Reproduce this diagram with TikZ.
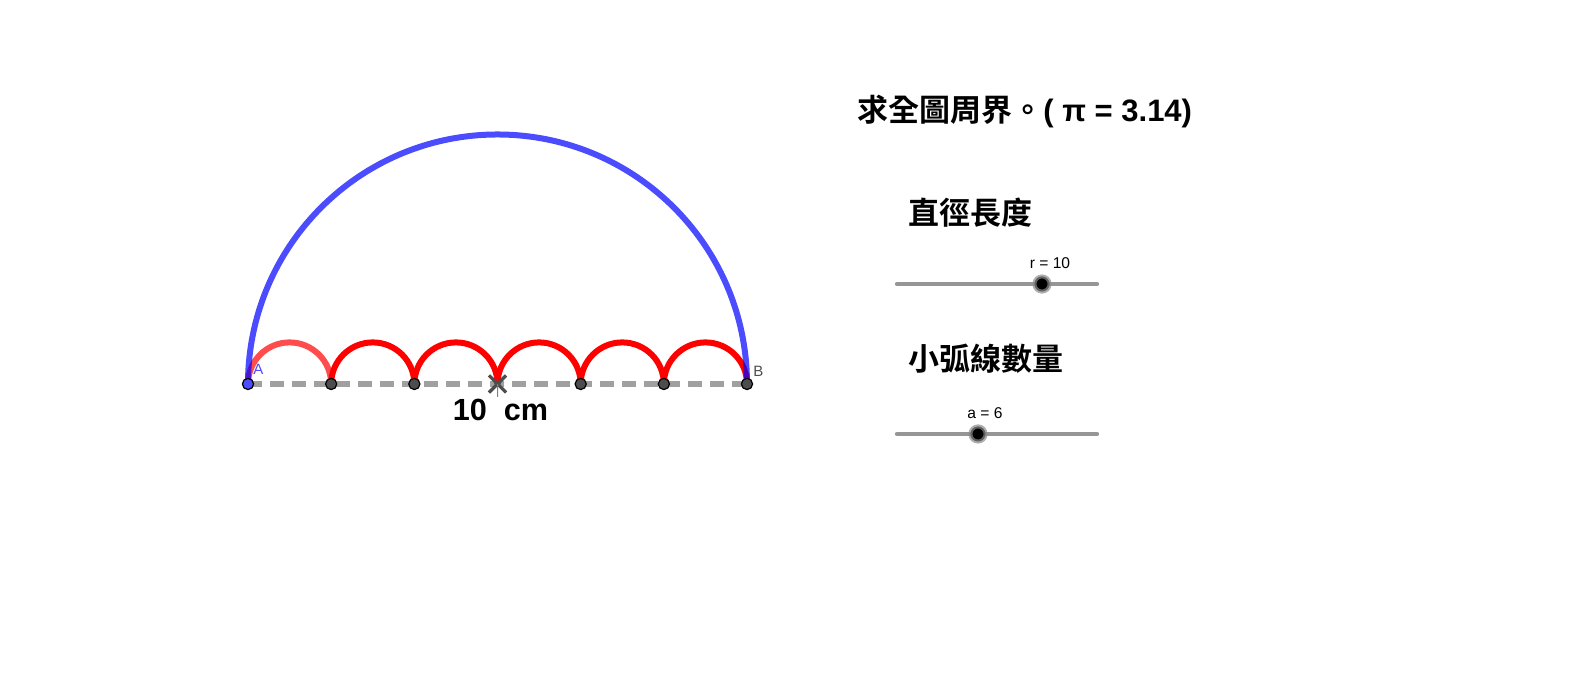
\documentclass[tikz,border=0pt]{standalone}
\usepackage{fontspec}
\setmainfont{Liberation Sans}
\newfontfamily\cjk{Noto Sans CJK TC Bold}
\usetikzlibrary{shapes.misc}
\definecolor{ggblue}{RGB}{77,77,255}
\definecolor{ptgray}{RGB}{77,77,77}
\definecolor{dashgray}{RGB}{160,160,160}
\definecolor{slidegray}{RGB}{150,150,150}

\begin{document}
\begin{tikzpicture}[x=0.5pt,y=0.5pt,
    dot/.style={circle,draw=black,line width=0.6pt,inner sep=0pt,minimum size=5.6pt,fill=ptgray},
    knob/.style={circle,inner sep=0pt,minimum size=7.6pt,fill=black,draw=black!45,draw opacity=0.7,line width=2pt},
    slide/.style={slidegray,line width=2.2pt,line cap=round},
    txt/.style={inner sep=0pt,anchor=base}]
            \useasboundingbox (0,0) rectangle (1591,678);

            % diameter AB
            \foreach \i in {0,...,5}
                \coordinate (P\i) at ({248+83.17*\i},294);
            \coordinate (P6) at (747,294);
            \draw[dashgray,line width=2.6pt,dash pattern=on 7pt off 4pt] (P0) to (P6);

            % small arcs
            \draw[red,opacity=0.7,line width=3pt] (P0) arc (180:0:41.58);
            \foreach \i in {1,...,5}
                \draw[red,line width=3pt] (P\i) arc (180:0:41.58);

            % big arc
            \draw[blue,opacity=0.7,line width=3pt] (P0) arc (180:0:249.5);

            \node[dot,fill=ggblue] (d0) at (P0) {};
            \foreach \i in {1,2,4,5,6}
                \node[dot] (d\i) at (P\i) {};
            \node[cross out,draw=ptgray,line width=1.6pt,minimum size=7pt,inner sep=0pt] (M) at (P3) {};
            \coordinate (M1) at (497.5,281);
            \draw[gray,line width=0.5pt] (M.center) to (M1);

            \node[txt,anchor=base west,text=ggblue,font=\fontsize{7.5}{9}\selectfont] (lA) at (253,303) {A};
            \node[txt,anchor=base west,text=ptgray,font=\fontsize{7.5}{9}\selectfont] (lB) at (753,301) {B};
            \node[txt,font=\fontsize{15.3}{18}\selectfont\bfseries] (len) at (500.5,257) {10\ \ cm};

            % text on the right
            \node[txt,anchor=base west,font=\fontsize{15.5}{18}\selectfont] (title) at (857,556) {{\cjk 求全圖周界。}\textbf{( π = 3.14)}};
            \node[inner sep=0pt,anchor=west,font=\cjk\fontsize{15.5}{18}\selectfont] (dia) at (908,465.5) {直徑長度};
            \node[inner sep=0pt,anchor=west,font=\cjk\fontsize{15.5}{18}\selectfont] (num) at (908,319) {小弧線數量};

            % sliders
            \coordinate (r0) at (897,394);
            \coordinate (r1) at (1097,394);
            \draw[slide] (r0) to (r1);
            \node[knob] (kr) at (1042,394) {};
            \node[txt,font=\fontsize{7.8}{9}\selectfont] (rlab) at (1050,409) {r = 10};

            \coordinate (a0) at (897,244);
            \coordinate (a1) at (1097,244);
            \draw[slide] (a0) to (a1);
            \node[knob] (ka) at (978,244) {};
            \node[txt,font=\fontsize{7.8}{9}\selectfont] (alab) at (985,259) {a = 6};
        \end{tikzpicture}
\end{document}
